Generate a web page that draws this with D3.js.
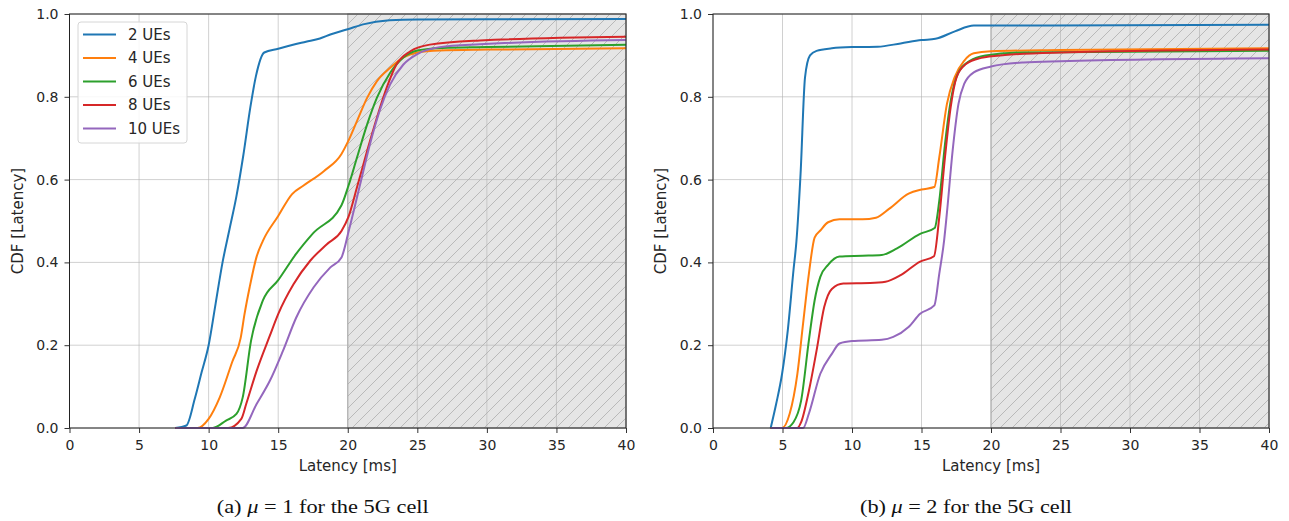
<!DOCTYPE html>
<html>
<head>
<meta charset="utf-8">
<title>Latency CDF</title>
<script src="https://cdn.jsdelivr.net/npm/d3@7"></script>
<style>
  body { margin: 0; background: #fff; }
  svg text { font-family: "DejaVu Sans", sans-serif; fill: #262626; }
  .caption { font-family: "Liberation Serif", "Times New Roman", serif; fill: #111; }
</style>
</head>
<body>
<div id="chart"></div>
<script>
// series labels and colours (matplotlib tab10)
var seriesNames = ['2 UEs', '4 UEs', '6 UEs', '8 UEs', '10 UEs'];
var seriesColors = ['#1f77b4', '#ff7f0e', '#2ca02c', '#d62728', '#9467bd'];
var xTicks = [0, 5, 10, 15, 20, 25, 30, 35, 40];
var yTicks = [0, 0.2, 0.4, 0.6, 0.8, 1.0];
var shadedRange = [20, 40];

// (a) mu = 1  -- [latency ms, CDF]
var mu1_2ue = [[7.6,0],[8.4,0.006],[9,0.07],[9.5,0.135],[10,0.2],[10.5,0.3],[11,0.4],[11.5,0.48],[12,0.56],[12.5,0.66],[13,0.775],[13.4,0.85],[14,0.907],[15,0.916],[16,0.925],[17,0.933],[18,0.941],[18.8,0.951],[20,0.963],[21.1,0.975],[23,0.985],[25,0.987],[40,0.988]];
var mu1_4ue = [[7.6,0],[9.2,0],[10,0.022],[10.8,0.074],[11.7,0.16],[12.3,0.217],[12.58,0.275],[12.95,0.34],[13.45,0.414],[13.9,0.452],[15,0.512],[16,0.565],[16.8,0.585],[18.3,0.621],[19.55,0.662],[20.05,0.694],[20.67,0.742],[21.4,0.798],[22.1,0.838],[23.05,0.87],[24,0.895],[25,0.907],[26.6,0.912],[30,0.914],[40,0.917]];
var mu1_6ue = [[7.6,0],[10.3,0],[11.25,0.018],[12,0.034],[12.45,0.074],[13.05,0.211],[13.9,0.308],[15,0.357],[16.3,0.421],[17.5,0.47],[19.55,0.538],[20.05,0.585],[20.67,0.654],[21.4,0.734],[22.1,0.798],[23.05,0.858],[24,0.895],[25,0.912],[26.8,0.918],[30,0.92],[40,0.926]];
var mu1_8ue = [[7.6,0],[11.4,0],[12.35,0.022],[12.7,0.058],[13.45,0.138],[14.4,0.223],[15,0.275],[16.1,0.347],[17.3,0.404],[18.5,0.444],[19.55,0.476],[20.05,0.51],[20.67,0.582],[21.4,0.67],[22.1,0.75],[22.8,0.822],[23.5,0.878],[24.5,0.91],[25.9,0.926],[29.5,0.936],[40,0.945]];
var mu1_10ue = [[7.6,0],[12.45,0],[13.45,0.058],[14.4,0.114],[15.35,0.187],[16.3,0.267],[17.55,0.34],[18.75,0.388],[19.55,0.412],[20.1,0.48],[20.9,0.59],[21.6,0.686],[22.3,0.767],[23.05,0.83],[24,0.878],[25,0.903],[26.6,0.92],[29.5,0.927],[40,0.937]];

// (b) mu = 2
var mu2_2ue = [[4.15,0],[4.55,0.059],[4.97,0.131],[5.38,0.236],[5.79,0.381],[6.0,0.45],[6.3,0.614],[6.62,0.847],[6.98,0.9],[7.45,0.911],[8.55,0.917],[10,0.92],[11.85,0.921],[13.5,0.929],[15,0.937],[16,0.94],[17.4,0.958],[18.76,0.972],[20,0.972],[40,0.974]];
var mu2_4ue = [[4.15,0],[4.97,0],[5.52,0.035],[6.07,0.131],[6.48,0.252],[6.9,0.373],[7.31,0.46],[7.72,0.477],[8.28,0.497],[9.1,0.504],[10.76,0.504],[11.72,0.508],[12.69,0.53],[14.07,0.566],[15,0.576],[15.92,0.582],[16.28,0.654],[16.83,0.783],[17.38,0.847],[18.07,0.887],[18.76,0.905],[20,0.91],[25,0.913],[40,0.917]];
var mu2_6ue = [[4.15,0],[5.24,0],[5.79,0.014],[6.34,0.066],[6.9,0.212],[7.31,0.308],[7.72,0.365],[8.28,0.394],[9.1,0.414],[10.76,0.416],[12.14,0.418],[13.24,0.434],[14.9,0.469],[15.95,0.483],[16.28,0.549],[16.69,0.686],[17.1,0.79],[17.66,0.859],[18.48,0.887],[19.6,0.9],[22.35,0.907],[40,0.911]];
var mu2_8ue = [[4.15,0],[6.07,0],[6.34,0.014],[6.9,0.09],[7.45,0.187],[8,0.292],[8.55,0.336],[9.38,0.349],[11.31,0.35],[12.41,0.353],[13.5,0.369],[14.9,0.402],[15.9,0.415],[16.28,0.51],[16.69,0.654],[17.1,0.775],[17.52,0.847],[18.2,0.879],[19.3,0.894],[21,0.901],[25,0.907],[40,0.914]];
var mu2_10ue = [[4.15,0],[6.48,0],[6.9,0.035],[7.72,0.131],[8.55,0.179],[9.1,0.204],[10,0.21],[12.14,0.213],[12.97,0.22],[14.07,0.244],[14.9,0.276],[15.92,0.296],[16.28,0.373],[16.63,0.454],[16.83,0.52],[17.24,0.67],[17.66,0.783],[18.07,0.831],[18.76,0.859],[20,0.873],[22.35,0.883],[25,0.886],[40,0.893]];

var panelA = [mu1_2ue, mu1_4ue, mu1_6ue, mu1_8ue, mu1_10ue];
var panelB = [mu2_2ue, mu2_4ue, mu2_6ue, mu2_8ue, mu2_10ue];

var W = 1289, H = 521;
var svg = d3.select('#chart').append('svg')
    .attr('width', W)
    .attr('height', H);

// hatch pattern for the shaded region
var defs = svg.append('defs');
var pat = defs.append('pattern')
    .attr('id', 'hatch')
    .attr('patternUnits', 'userSpaceOnUse')
    .attr('width', 12)
    .attr('height', 12);
pat.append('rect').attr('width', 12).attr('height', 12).attr('fill', '#e5e5e5');
pat.append('path')
    .attr('d', 'M0,12 L12,0 M-3,3 L3,-3 M9,15 L15,9')
    .attr('stroke', '#b4b4b4')
    .attr('stroke-width', 0.9);

function drawPanel(left, right, data, caption, showLegend) {
    var top = 14, bottom = 428;
    var x = d3.scaleLinear().domain([0, 40]).range([left, right]);
    var y = d3.scaleLinear().domain([0, 1]).range([bottom, top]);
    var g = svg.append('g');

    // shaded region
    g.append('rect')
        .attr('x', x(shadedRange[0]))
        .attr('y', top)
        .attr('width', x(shadedRange[1]) - x(shadedRange[0]))
        .attr('height', bottom - top)
        .attr('fill', 'url(#hatch)')
        .attr('stroke', '#a8a8a8')
        .attr('stroke-width', 1);

    // grid
    g.append('g').selectAll('line').data(xTicks).enter().append('line')
        .attr('x1', function (d) { return x(d); })
        .attr('x2', function (d) { return x(d); })
        .attr('y1', top).attr('y2', bottom)
        .attr('stroke', '#b0b0b0').attr('stroke-opacity', 0.6).attr('stroke-width', 1);
    g.append('g').selectAll('line').data(yTicks).enter().append('line')
        .attr('x1', left).attr('x2', right)
        .attr('y1', function (d) { return y(d); })
        .attr('y2', function (d) { return y(d); })
        .attr('stroke', '#b0b0b0').attr('stroke-opacity', 0.6).attr('stroke-width', 1);

    var line = d3.line()
        .curve(d3.curveMonotoneX)
        .x(function (d) { return x(d[0]); })
        .y(function (d) { return y(d[1]); });

    g.append('g').selectAll('path').data(data).enter().append('path')
        .attr('d', line)
        .attr('fill', 'none')
        .attr('stroke', function (d, i) { return seriesColors[i]; })
        .attr('stroke-width', 2)
        .attr('stroke-linejoin', 'round');

    // axes
    var xAxis = d3.axisBottom(x).tickValues(xTicks).tickSize(5).tickSizeOuter(0).tickPadding(7);
    var yAxis = d3.axisLeft(y).tickValues(yTicks).tickSize(5).tickSizeOuter(0).tickPadding(6)
        .tickFormat(d3.format('.1f'));
    var ax = g.append('g').attr('transform', 'translate(0,' + bottom + ')').call(xAxis);
    var ay = g.append('g').attr('transform', 'translate(' + left + ',0)').call(yAxis);
    [ax, ay].forEach(function (a) {
        a.select('.domain').remove();
        a.selectAll('text').style('font-size', '14px').attr('fill', '#262626');
        a.selectAll('line').attr('stroke', '#333');
    });

    // frame
    g.append('rect')
        .attr('x', left).attr('y', top)
        .attr('width', right - left).attr('height', bottom - top)
        .attr('fill', 'none').attr('stroke', '#222').attr('stroke-width', 1);

    g.append('text')
        .attr('x', (left + right) / 2).attr('y', 471)
        .attr('text-anchor', 'middle')
        .style('font-size', '15px')
        .text('Latency [ms]');
    g.append('text')
        .attr('transform', 'translate(' + (left - 47) + ',' + ((top + bottom) / 2) + ') rotate(-90)')
        .attr('text-anchor', 'middle')
        .style('font-size', '15px')
        .text('CDF [Latency]');

    // caption with italic mu
    var cap = g.append('text')
        .attr('class', 'caption')
        .attr('x', (left + right) / 2 - 25).attr('y', 513)
        .attr('text-anchor', 'middle')
        .attr('textLength', 212)
        .attr('lengthAdjust', 'spacingAndGlyphs')
        .style('font-size', '18px');
    cap.append('tspan').text(caption[0] + ' ');
    cap.append('tspan').style('font-style', 'italic').text('\u03bc');
    cap.append('tspan').text(' = ' + caption[1] + ' for the 5G cell');

    if (showLegend) {
        var lg = g.append('g').attr('transform', 'translate(' + (left + 8.5) + ',' + (top + 8) + ')');
        lg.append('rect')
            .attr('width', 109).attr('height', 121)
            .attr('rx', 3)
            .attr('fill', '#fff').attr('fill-opacity', 0.85)
            .attr('stroke', '#d6d6d6');
        var item = lg.selectAll('g.item').data(seriesNames).enter().append('g')
            .attr('class', 'item')
            .attr('transform', function (d, i) { return 'translate(0,' + (12.5 + i * 23.5) + ')'; });
        item.append('line')
            .attr('x1', 5).attr('x2', 38)
            .attr('stroke', function (d, i) { return seriesColors[i]; })
            .attr('stroke-width', 2);
        item.append('text')
            .attr('x', 50).attr('dy', '0.35em')
            .style('font-size', '15px')
            .text(function (d) { return d; });
    }
}

drawPanel(69.5, 626, panelA, ['(a)', '1'], true);
drawPanel(713, 1269, panelB, ['(b)', '2'], false);
</script>
</body>
</html>
